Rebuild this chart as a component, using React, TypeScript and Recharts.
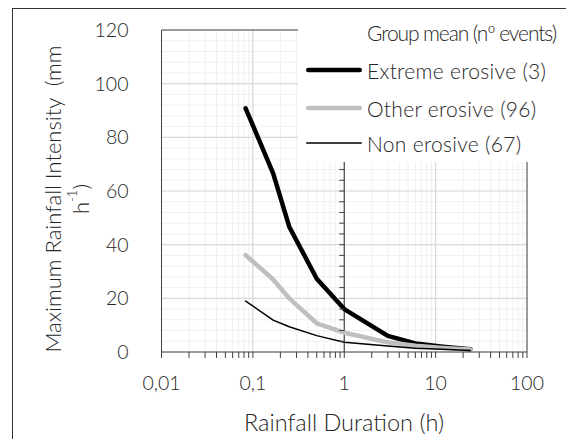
import React from "react";
import {
  CartesianGrid,
  Line,
  LineChart,
  ReferenceDot,
  ReferenceLine,
  XAxis,
  YAxis,
} from "recharts";

// durations in hours (5 min .. 24 h)
const durations = [0.0833, 0.1667, 0.25, 0.5, 1, 3, 6, 12, 24];
const extremeErosive = [90.8, 66.6, 46.7, 27.3, 16.0, 6.0, 3.2, 2.0, 1.0];
const otherErosive = [36.1, 27.0, 20.0, 10.7, 7.2, 3.6, 2.3, 1.5, 0.9];
const nonErosive = [19.0, 11.9, 9.4, 6.1, 3.6, 2.2, 1.4, 1.0, 0.6];

const seriesNames = ["Extreme erosive (3)", "Other erosive (96)", "Non erosive (67)"];
const legendTitle = "Group mean (nº events)";

const xMajorTicks = [0.01, 0.1, 1, 10, 100];
const xMajorLabels = ["0,01", "0,1", "1", "10", "100"];
const xMinorSteps = [2, 3, 4, 5, 6, 7, 8, 9];
const yMajorTicks = [0, 20, 40, 60, 80, 100, 120];
const yMinorStep = 4;

const xTicks = [
  ...xMajorTicks,
  ...xMajorTicks.slice(0, -1).flatMap((d) => xMinorSteps.map((k) => +(k * d).toPrecision(3))),
].sort((a, b) => a - b);
const yTicks = Array.from({ length: 120 / yMinorStep + 1 }, (_, i) => i * yMinorStep);

const rows = durations.map((d, i) => ({
  d,
  extreme: extremeErosive[i],
  other: otherErosive[i],
  non: nonErosive[i],
}));

const FONT = "Lato, 'Open Sans', sans-serif";
const TEXT = "#262626";
const AXIS = "#404040";
const MAJOR_GRID = "#d9d9d9";
const MINOR_GRID = "#f0f0f0";

const lineStyles = [
  { key: "extreme", stroke: "#000000", width: 4.5 },
  { key: "other", stroke: "#bfbfbf", width: 4.5 },
  { key: "non", stroke: "#000000", width: 1.5 },
];

function xLabel(v: number) {
  const i = xMajorTicks.findIndex((t) => Math.abs(t - v) < 1e-9);
  return i >= 0 ? xMajorLabels[i] : "";
}

export default function App() {
  return (
    <div
      style={{
        position: "relative",
        width: 566,
        height: 439,
        overflow: "hidden",
        background: "#fff",
        fontFamily: FONT,
        fontWeight: 300,
      }}
    >
      <style>{`body{margin:0}`}</style>
      <div
        style={{
          position: "absolute",
          left: 12,
          top: 8,
          width: 700,
          height: 600,
          borderLeft: "1px solid #333",
          borderTop: "1px solid #333",
        }}
      />
      <div style={{ position: "absolute", left: 0, top: 0 }}>
        <LineChart
          width={566}
          height={439}
          data={rows}
          margin={{ top: 30, right: 39, bottom: 57, left: 0 }}
        >
          <CartesianGrid stroke={MINOR_GRID} strokeWidth={1} />
          <XAxis
            dataKey="d"
            type="number"
            scale="log"
            domain={[0.01, 100]}
            ticks={xTicks}
            interval={0}
            height={30}
            tickFormatter={xLabel}
            tick={{ fill: TEXT, fontSize: 19.5, fontFamily: FONT, fontWeight: 300 }}
            tickSize={6}
            tickMargin={18}
            stroke={AXIS}
            allowDataOverflow
          />
          <YAxis
            type="number"
            domain={[0, 120]}
            ticks={yTicks}
            interval={0}
            width={161.5}
            tickFormatter={(v: number) => (v % 20 === 0 ? String(v) : "")}
            tick={{ fill: TEXT, fontSize: 19.5, fontFamily: FONT, fontWeight: 300 }}
            tickLine={false}
            tickSize={6}
            tickMargin={27}
            stroke={AXIS}
          />
          {yMajorTicks.slice(1, -1).map((v) => (
            <ReferenceLine key={"hy" + v} y={v} stroke={MAJOR_GRID} strokeWidth={1.2} />
          ))}
          {[0.1, 10].map((v) => (
            <ReferenceLine key={"vx" + v} x={v} stroke={MAJOR_GRID} strokeWidth={1.2} />
          ))}
          <ReferenceLine y={120} stroke={AXIS} strokeWidth={1} />
          <ReferenceLine x={100} stroke={AXIS} strokeWidth={1} />
          <ReferenceLine x={1} stroke={AXIS} strokeWidth={1.2} />
          {yTicks.slice(1).map((v) => (
            <ReferenceDot
              key={"mt" + v}
              x={1}
              y={v}
              r={0}
              shape={(p: any) => (
                <line x1={p.cx - 5} y1={p.cy} x2={p.cx} y2={p.cy} stroke={AXIS} strokeWidth={1} />
              )}
            />
          ))}
          {lineStyles.map((s, i) => (
            <Line
              key={s.key}
              dataKey={s.key}
              name={seriesNames[i]}
              type="linear"
              stroke={s.stroke}
              strokeWidth={s.width}
              strokeLinecap="round"
              strokeLinejoin="round"
              dot={false}
              activeDot={false}
              isAnimationActive={false}
            />
          ))}
          <text
            x={344}
            y={422}
            textAnchor="middle"
            dominantBaseline="central"
            fill={TEXT}
            fontSize={23.5}
            fontWeight={300}
            fontFamily={FONT}
          >
            Rainfall Duration (h)
          </text>
          <text
            transform="translate(52,199) rotate(-90)"
            textAnchor="middle"
            dominantBaseline="central"
            fill={TEXT}
            fontSize={22}
            fontWeight={300}
            fontFamily={FONT}
            style={{ whiteSpace: "pre" }}
          >
            {"Maximum Rainfall Intensity  (mm"}
          </text>
          <text
            transform="translate(80,199) rotate(-90)"
            textAnchor="middle"
            dominantBaseline="central"
            fill={TEXT}
            fontSize={22}
            fontWeight={300}
            fontFamily={FONT}
          >
            h<tspan fontSize={13} dy={-8}>-1</tspan>
            <tspan dy={8}>)</tspan>
          </text>
        </LineChart>
      </div>
      <div
        style={{
          position: "absolute",
          left: 298,
          top: 9,
          width: 268,
          height: 153,
          background: "#fff",
          color: TEXT,
        }}
      >
        <div
          style={{
            position: "absolute",
            left: 69,
            top: 24 - 12,
            fontSize: 21,
            letterSpacing: -1.1,
            whiteSpace: "nowrap",
            lineHeight: "24px",
          }}
        >
          {legendTitle}
        </div>
        {lineStyles.map((s, i) => (
          <div
            key={s.key}
            style={{
              position: "absolute",
              left: 8,
              top: [61, 99, 134][i] - 13,
              height: 26,
              display: "flex",
              alignItems: "center",
              whiteSpace: "nowrap",
              fontSize: 21,
              letterSpacing: 0.3,
            }}
          >
            <svg width={56} height={10} style={{ marginRight: 5 }}>
              <line
                x1={s.width / 2}
                y1={5}
                x2={56 - s.width / 2}
                y2={5}
                stroke={s.stroke}
                strokeWidth={s.width}
                strokeLinecap="round"
              />
            </svg>
            <span>{seriesNames[i]}</span>
          </div>
        ))}
      </div>
    </div>
  );
}
